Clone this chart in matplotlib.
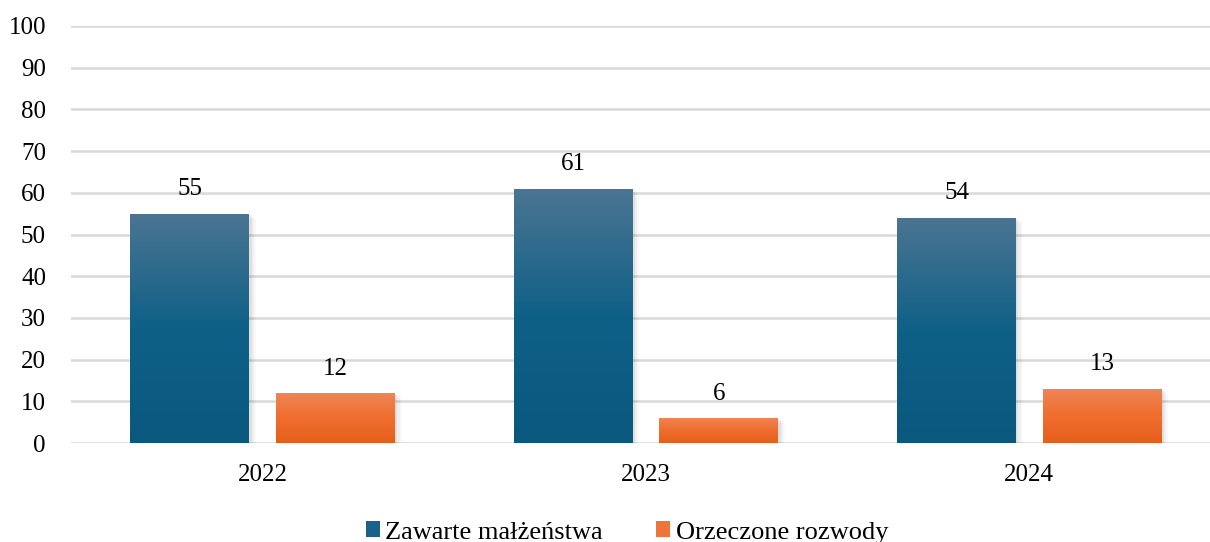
import numpy as np
import matplotlib.pyplot as plt
from matplotlib.colors import LinearSegmentedColormap
from matplotlib.patches import Patch

# data
years = ['2022', '2023', '2024']
marriages = [55, 61, 54]
divorces = [12, 6, 13]
series_names = ['Zawarte małżeństwa', 'Orzeczone rozwody']

plt.rcParams['font.family'] = ['Liberation Serif', 'DejaVu Serif']

blue_cmap = LinearSegmentedColormap.from_list('b', ['#0a587e', '#0f6087', '#4b7592'])
orange_cmap = LinearSegmentedColormap.from_list('o', ['#e65e1c', '#f06e2e', '#ee8658'])

fig = plt.figure(figsize=(12.1, 5.42), dpi=100)
ax = fig.add_axes([71 / 1210, 99 / 542, 1150 / 1210, 417 / 542])

x = np.arange(len(years))
width = 0.31
offset = 0.19

grad = np.linspace(0, 1, 256).reshape(-1, 1)


def gradient_bars(xs, vals, cmap):
    bars = ax.bar(xs, vals, width, color='none', zorder=3)
    for b in bars:
        x0, w, h = b.get_x(), b.get_width(), b.get_height()
        # soft shadow to the right/bottom
        for k, a in enumerate([0.06, 0.04, 0.025]):
            d = 0.003 * (k + 1)
            ax.add_patch(plt.Rectangle((x0 + d, -0.4 * (k + 1)), w + d, h,
                                       color='black', alpha=a, lw=0, zorder=2))
        im = ax.imshow(grad, cmap=cmap, aspect='auto', origin='lower',
                       extent=[x0, x0 + w, 0, h], zorder=3)
        im.set_clip_path(b)
    return bars


b1 = gradient_bars(x - offset, marriages, blue_cmap)
b2 = gradient_bars(x + offset, divorces, orange_cmap)

for xs, vals in [(x - offset, marriages), (x + offset, divorces)]:
    for xi, v in zip(xs, vals):
        ax.text(xi, v + 3.2, str(v), ha='center', va='bottom', fontsize=18)

ax.set_xlim(-0.5, 2.5)
ax.set_ylim(0, 100)
ax.set_yticks(range(0, 101, 10))
ax.set_xticks(x)
ax.set_xticklabels(years)
ax.tick_params(axis='both', length=0, labelsize=18)
ax.tick_params(axis='x', pad=15)
ax.tick_params(axis='y', pad=18)
ax.grid(axis='y', color='#d9d9d9', linewidth=1.8, zorder=0)
ax.set_axisbelow(True)
for s in ax.spines.values():
    s.set_visible(False)

handles = [Patch(facecolor='#1a6288'), Patch(facecolor='#ef7439')]
fig.legend(handles, series_names, loc='lower center', ncol=2, frameon=False,
           fontsize=19, bbox_to_anchor=(0.518, -0.047), handlelength=0.55,
           handleheight=0.55, handletextpad=0.2, columnspacing=2.0)

fig.savefig('out.png', dpi=100)
